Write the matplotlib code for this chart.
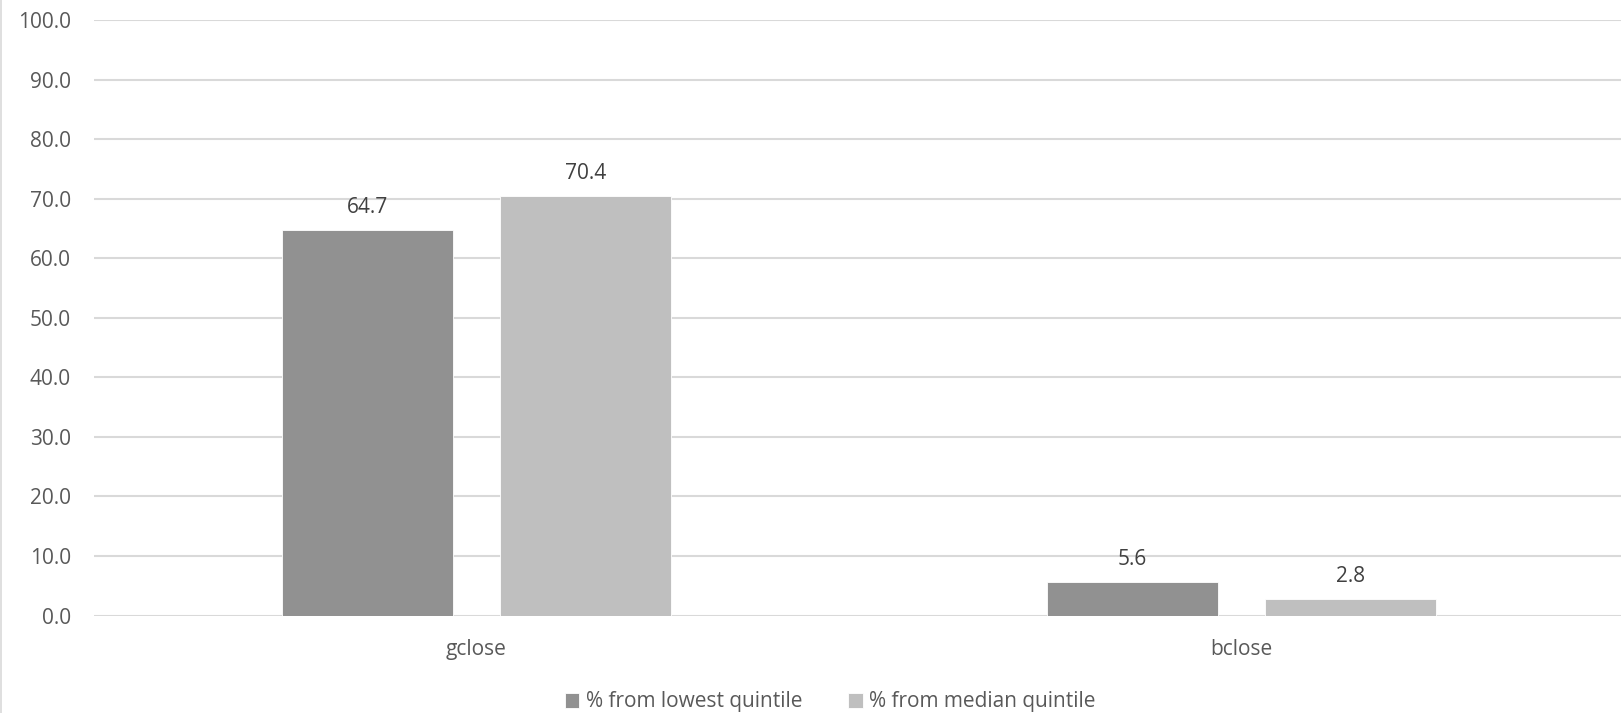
import matplotlib
matplotlib.use("Agg")
import matplotlib.pyplot as plt
import numpy as np
from matplotlib.lines import Line2D

categories = ["gclose", "bclose"]
series_names = ["% from lowest quintile", "% from median quintile"]
lowest_quintile = [64.7, 5.6]
median_quintile = [70.4, 2.8]
y_ticks = [0, 10, 20, 30, 40, 50, 60, 70, 80, 90, 100]

colors = ["#919191", "#bfbfbf"]
axis_text = "#595959"
label_text = "#404040"
grid_color = "#d9d9d9"

plt.rcParams["font.family"] = ["Open Sans", "DejaVu Sans"]
fs = 15

fig = plt.figure(figsize=(16.21, 7.13), dpi=100)
W, H = 1621, 713
ax = fig.add_axes([94 / W, (H - 615.5) / H, 1530 / W, 595.5 / H])

x = np.arange(len(categories))
width = 0.2235
offset = 0.1425
for vals, col, name, off in zip([lowest_quintile, median_quintile], colors,
                                series_names, [-offset, offset]):
    bars = ax.bar(x + off, vals, width, color=col, label=name, zorder=3,
                  edgecolor="white", linewidth=0.6)
    for b, v in zip(bars, vals):
        ax.annotate(f"{v:.1f}", (b.get_x() + b.get_width() / 2, v),
                    xytext=(0, 8.8), textcoords="offset points",
                    ha="center", va="bottom", fontsize=fs, color=label_text)

ax.set_xlim(-0.5, 1.5)
ax.set_ylim(0, 100)
ax.set_yticks(y_ticks)
ax.set_yticklabels([f"{t:.1f}" for t in y_ticks])
ax.set_xticks(x)
ax.set_xticklabels(categories)
ax.tick_params(axis="y", length=0, pad=16.5, labelsize=fs, labelcolor=axis_text)
ax.tick_params(axis="x", length=0, pad=17, labelsize=fs, labelcolor=axis_text)
ax.grid(axis="y", color=grid_color, linewidth=1.5, zorder=0)
ax.set_axisbelow(True)
for s in ax.spines.values():
    s.set_visible(False)

# chart frame edge on the left
fig.add_artist(Line2D([0.6 / W, 0.6 / W], [0, 1], color=grid_color,
                      linewidth=1.2, transform=fig.transFigure))

fig.legend(loc="center", bbox_to_anchor=(830 / W, 1 - 702 / H), ncol=2,
           frameon=False, fontsize=fs, labelcolor=axis_text,
           handlelength=0.7, handleheight=0.7, handletextpad=0.3,
           columnspacing=2.2)

fig.savefig("out.png", dpi=100)
